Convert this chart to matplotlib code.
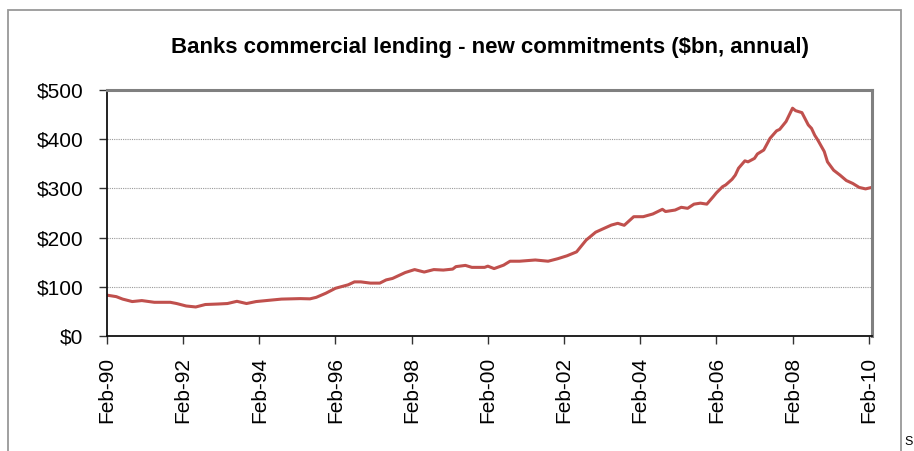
import pandas as pd
import matplotlib
matplotlib.use('Agg')
import matplotlib.pyplot as plt
import matplotlib.dates as mdates
from matplotlib.patches import Rectangle

plt.rcParams['font.family'] = ['Liberation Sans', 'DejaVu Sans']

# Months counted from Feb-1990, and new commitments ($bn, annualised)
meses = [0, 3, 5, 8, 11, 15, 20, 22, 25, 28, 31, 35, 38, 41, 44, 47, 51, 55,
         61, 64, 66, 69, 72, 76, 78, 80, 83, 86, 88, 90, 94, 97, 100, 103,
         106, 109, 110, 113, 115, 119, 120, 122, 125, 127, 130, 135, 139,
         142, 145, 148, 151, 154, 156, 159, 161, 163, 166, 169, 172, 175,
         176, 179, 181, 183, 185, 187, 189, 191, 192, 194, 195, 197, 198,
         199, 201, 202, 204, 205, 207, 209, 211, 212, 214, 216, 217, 219,
         221, 222, 223, 224, 226, 227, 229, 231, 233, 235, 237, 239, 241]
valores = [83, 80, 75, 70, 72, 68.5, 68.5, 66, 61, 59, 64, 65, 66, 70.5, 66,
           70, 72.5, 75, 76, 75.5, 78.6, 87, 97, 104, 110, 110, 107.5, 107.5,
           114, 117, 129, 135, 130, 135, 134, 136, 141, 143.5, 139.5, 139.5,
           142, 137, 144, 152, 152, 154.5, 152, 157, 163, 171, 195, 211, 217,
           225.5, 229, 225, 242.5, 242.5, 248, 257.5, 253, 256, 261.6, 259.5,
           268, 270, 268, 283, 291, 303.5, 307, 318.5, 327, 341, 356, 354,
           361, 370, 378, 402, 417, 420, 436, 463, 458, 454, 429, 422, 408,
           398, 375, 354, 337, 327, 316, 310, 302, 299, 302]

inicio = pd.Timestamp('1990-02-01')
datas = [inicio + pd.DateOffset(months=m) for m in meses]

fig = plt.figure(figsize=(9.14, 4.51), dpi=100)
ax = fig.add_axes([107 / 914, 1 - 336 / 451, 765 / 914, 246 / 451])

ax.plot(datas, valores, color='#C0504D', linewidth=2.2, solid_joinstyle='round')

ax.set_ylim(0, 500)
ax.set_yticks([0, 100, 200, 300, 400, 500])
ax.set_yticklabels(['$0', '$100', '$200', '$300', '$400', '$500'], fontsize=15)
ax.set_xlim(inicio, pd.Timestamp('2010-03-04'))
ticks_x = [pd.Timestamp(f'{a}-02-01') for a in range(1990, 2011, 2)]
ax.set_xticks(ticks_x)
ax.xaxis.set_major_formatter(mdates.DateFormatter('%b-%y'))
plt.setp(ax.get_xticklabels(), rotation=90, fontsize=15)

ax.tick_params(axis='both', direction='out', length=6, width=1, color='#333333')
ax.tick_params(axis='y', pad=11)
ax.tick_params(axis='x', pad=9)
ax.yaxis.grid(True, linestyle=(0, (1, 1)), color='#9a9a9a', linewidth=0.8)
ax.set_axisbelow(True)

for lado in ['left', 'bottom']:
    ax.spines[lado].set_color('#111111')
    ax.spines[lado].set_linewidth(1.3)
for lado in ['top', 'right']:
    ax.spines[lado].set_color('#808080')
    ax.spines[lado].set_linewidth(2.2)

fig.text(490 / 914, 1 - 47 / 451, 'Banks commercial lending - new commitments ($bn, annual)',
         ha='center', va='center', fontsize=16, fontweight='bold')

# moldura externa do gráfico
fig.patches.append(Rectangle((8 / 914, -0.1), (901 - 8) / 914, (451 - 10) / 451 + 0.1,
                             transform=fig.transFigure, fill=False,
                             edgecolor='#999999', linewidth=1.3))
fig.text(904 / 914, 1 - 442 / 451, 'S', fontsize=9, ha='left', va='center')

fig.savefig('out.png', dpi=100)
